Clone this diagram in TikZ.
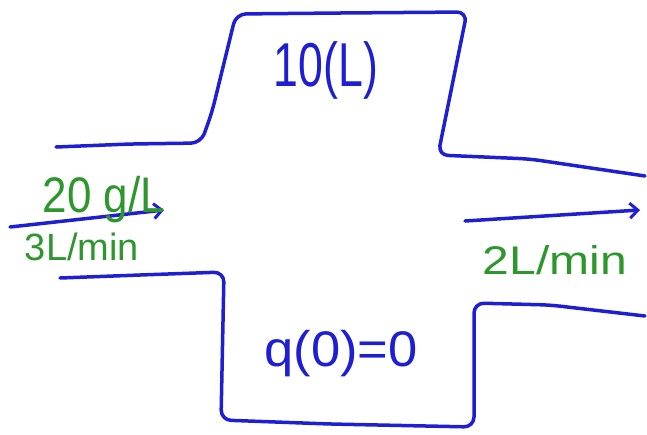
\documentclass[tikz,border=0pt]{standalone}
\usepackage{fontspec}
\setmainfont{Liberation Sans}
\usetikzlibrary{arrows.meta}
\definecolor{penblue}{RGB}{30,30,210}
\definecolor{pengreen}{RGB}{45,150,45}
\begin{document}
\begin{tikzpicture}[x=1pt,y=-1pt,
  wall/.style={draw=penblue,line width=3.5pt,line cap=round,line join=round,rounded corners=10pt},
  flow/.style={draw=penblue,line width=3.5pt,line cap=round,-{Straight Barb[length=8pt,width=15pt,line width=3pt]}},
  greenlab/.style={text=pengreen,inner sep=0pt,anchor=base},
  bluelab/.style={text=penblue,inner sep=0pt,anchor=base}]
\useasboundingbox (0,0) rectangle (647,434);
% upper outline
\draw[wall] (56,147) -- (130,144) -- (201,143) -- (212,112) -- (236,14) -- (340,13) -- (467,12) -- (438,155) -- (530,159) -- (645,176);
% lower outline
\draw[wall] (60,278) -- (140,275) -- (224,272) -- (221,420) -- (330,424) -- (474,427) -- (474,303) -- (550,305) -- (645,316);
% flows
\coordinate (inA) at (10,227);
\coordinate (inB) at (164,210);
\coordinate (outA) at (465,221);
\coordinate (outB) at (640,210);
\draw[flow] (inA) -- (inB);
\draw[flow] (outA) -- (outB);
% labels
\node[greenlab,font=\fontsize{50}{50}\selectfont] (conc) at (104,212) {\scalebox{0.88}[1]{20 g/L}};
\node[greenlab,font=\fontsize{38}{38}\selectfont] (qin) at (82,260) {\scalebox{1}[1]{3L/min}};
\node[greenlab,font=\fontsize{40}{40}\selectfont] (qout) at (555,274) {\scalebox{1.2}[1]{2L/min}};
\node[bluelab,font=\fontsize{62}{62}\selectfont] (vol) at (326,86) {\scalebox{0.72}[1]{10(L)}};
\node[bluelab,font=\fontsize{50}{50}\selectfont] (init) at (341,366) {\scalebox{1.05}[1]{q(0)=0}};
\end{tikzpicture}
\end{document}
